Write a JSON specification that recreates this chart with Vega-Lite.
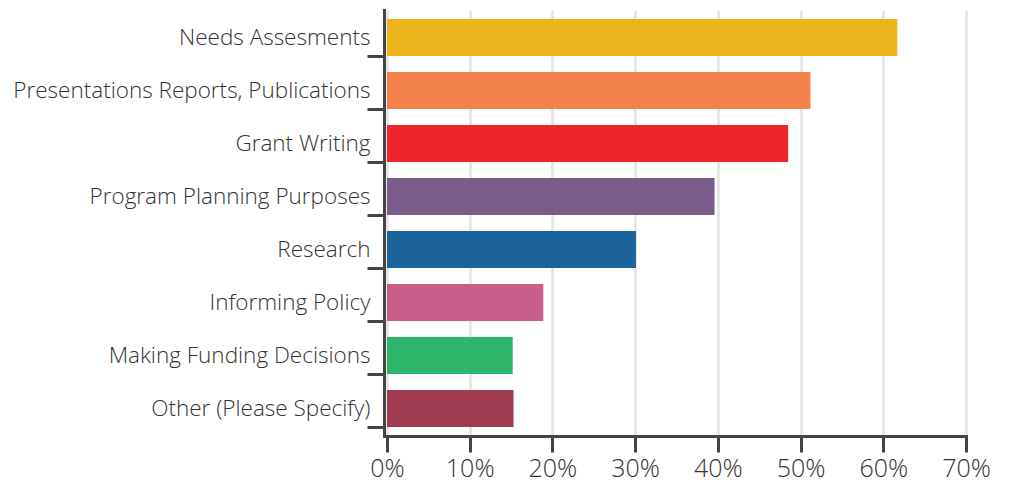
{
  "$schema": "https://vega.github.io/schema/vega-lite/v6.json",
  "width": 579,
  "height": 426,
  "autosize": {"type": "none"},
  "padding": {"left": 387, "top": 10, "right": 44, "bottom": 49},
  "background": "white",
  "config": {
    "view": {"stroke": null},
    "font": "Open Sans"
  },
  "data": {
    "values": [
      {"category": "Needs Assesments", "share": 0.617},
      {"category": "Presentations Reports, Publications", "share": 0.512},
      {"category": "Grant Writing", "share": 0.485},
      {"category": "Program Planning Purposes", "share": 0.396},
      {"category": "Research", "share": 0.301},
      {"category": "Informing Policy", "share": 0.189},
      {"category": "Making Funding Decisions", "share": 0.152},
      {"category": "Other (Please Specify)", "share": 0.153}
    ]
  },
  "mark": {"type": "bar"},
  "encoding": {
    "y": {
      "field": "category",
      "type": "nominal",
      "sort": null,
      "title": null,
      "scale": {"paddingInner": 0.3, "paddingOuter": 0.17},
      "axis": {
        "offset": 3,
        "tickBand": "extent",
        "tickSize": 17,
        "tickWidth": 3,
        "tickColor": "#444444",
        "tickOpacity": {"condition": {"test": "datum.index < 0", "value": 0}, "value": 1},
        "domainColor": "#444444",
        "domainWidth": 3,
        "domainCap": "square",
        "labelFont": "Open Sans",
        "labelFontWeight": 300,
        "labelFontSize": 22.5,
        "labelColor": "#333333",
        "labelPadding": -3,
        "labelLimit": 500,
        "labelDy": -1,
        "grid": false
      }
    },
    "x": {
      "field": "share",
      "type": "quantitative",
      "title": null,
      "scale": {"domain": [0, 0.7], "nice": false},
      "axis": {
        "values": [0, 0.1, 0.2, 0.3, 0.4, 0.5, 0.6, 0.7],
        "format": ".0%",
        "grid": true,
        "gridColor": "#e3e3e3",
        "gridWidth": 2.5,
        "tickSize": 16,
        "tickWidth": 3,
        "tickColor": "#444444",
        "domainColor": "#444444",
        "domainWidth": 3,
        "domainCap": "square",
        "labelFont": "Open Sans",
        "labelFontWeight": 300,
        "labelFontSize": 25,
        "labelColor": "#333333",
        "labelPadding": 4,
        "labelDx": 3,
        "labelFlush": false
      }
    },
    "color": {
      "field": "category",
      "type": "nominal",
      "legend": null,
      "scale": {
        "domain": ["Needs Assesments", "Presentations Reports, Publications", "Grant Writing", "Program Planning Purposes", "Research", "Informing Policy", "Making Funding Decisions", "Other (Please Specify)"],
        "range": ["#EDB51D", "#F2824A", "#EE2528", "#7A5C8B", "#1A649B", "#C85F8A", "#2EB56C", "#A03C51"]
      }
    }
  }
}
